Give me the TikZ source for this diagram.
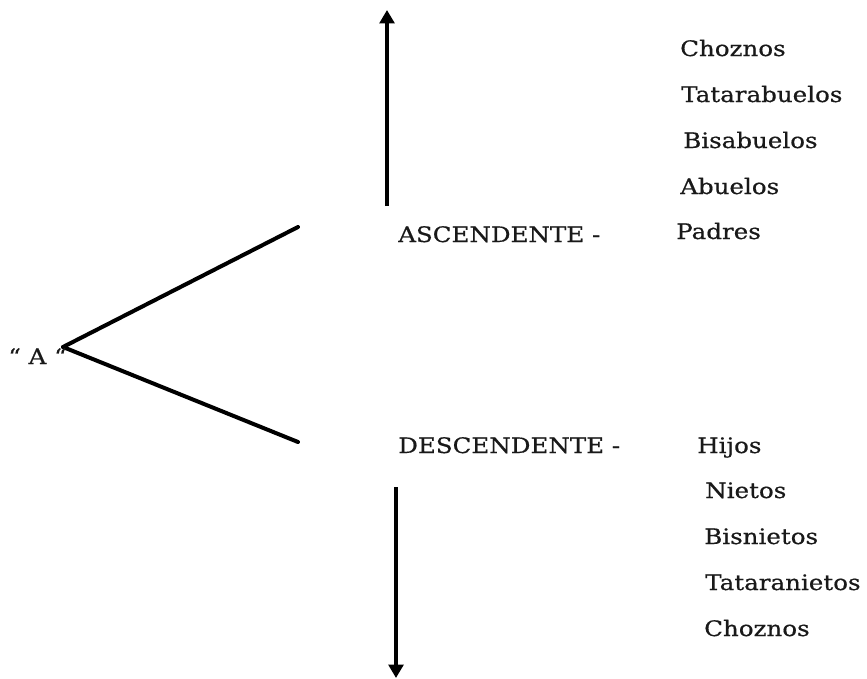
\documentclass[tikz,border=0pt]{standalone}
\usepackage{fontspec}
\setmainfont{DejaVu Serif}[FakeStretch=1.15,FakeBold=0.6]
\usetikzlibrary{arrows.meta}
\begin{document}
\begin{tikzpicture}[x=0.75pt,y=-0.75pt,
  lbl/.style={anchor=base west,inner sep=0pt,font=\fontsize{16}{19}\selectfont,text=black!90},
  arm/.style={line width=3pt,line cap=round},
  vert/.style={line width=3pt,-{Triangle[width=11pt,length=10pt]}}]
\useasboundingbox (0,0) rectangle (867,678);
% apex and arms
\coordinate (apex) at (63,347);
\coordinate (upend) at (298,227);
\coordinate (downend) at (298,442);
\draw[arm] (apex) -- (upend);
\draw[arm] (apex) -- (downend);
\node[lbl] (a) at (8,364) {“ A “};
% arrows
\coordinate (ua0) at (387,206);
\coordinate (ua1) at (387,10);
\coordinate (da0) at (396,487);
\coordinate (da1) at (396,678);
\draw[vert] (ua0) -- (ua1);
\draw[vert] (da0) -- (da1);
% labels
\node[lbl] (asc) at (398,242) {ASCENDENTE -};
\node[lbl] (desc) at (398,453) {DESCENDENTE -};
\node[lbl] (u1) at (680,56) {Choznos};
\node[lbl] (u2) at (681,102) {Tatarabuelos};
\node[lbl] (u3) at (683,148) {Bisabuelos};
\node[lbl] (u4) at (680,194) {Abuelos};
\node[lbl] (u5) at (676,239) {Padres};
\node[lbl] (d1) at (697,453) {Hijos};
\node[lbl] (d2) at (705,498) {Nietos};
\node[lbl] (d3) at (704,544) {Bisnietos};
\node[lbl] (d4) at (705,590) {Tataranietos};
\node[lbl] (d5) at (704,636) {Choznos};
\end{tikzpicture}
\end{document}
